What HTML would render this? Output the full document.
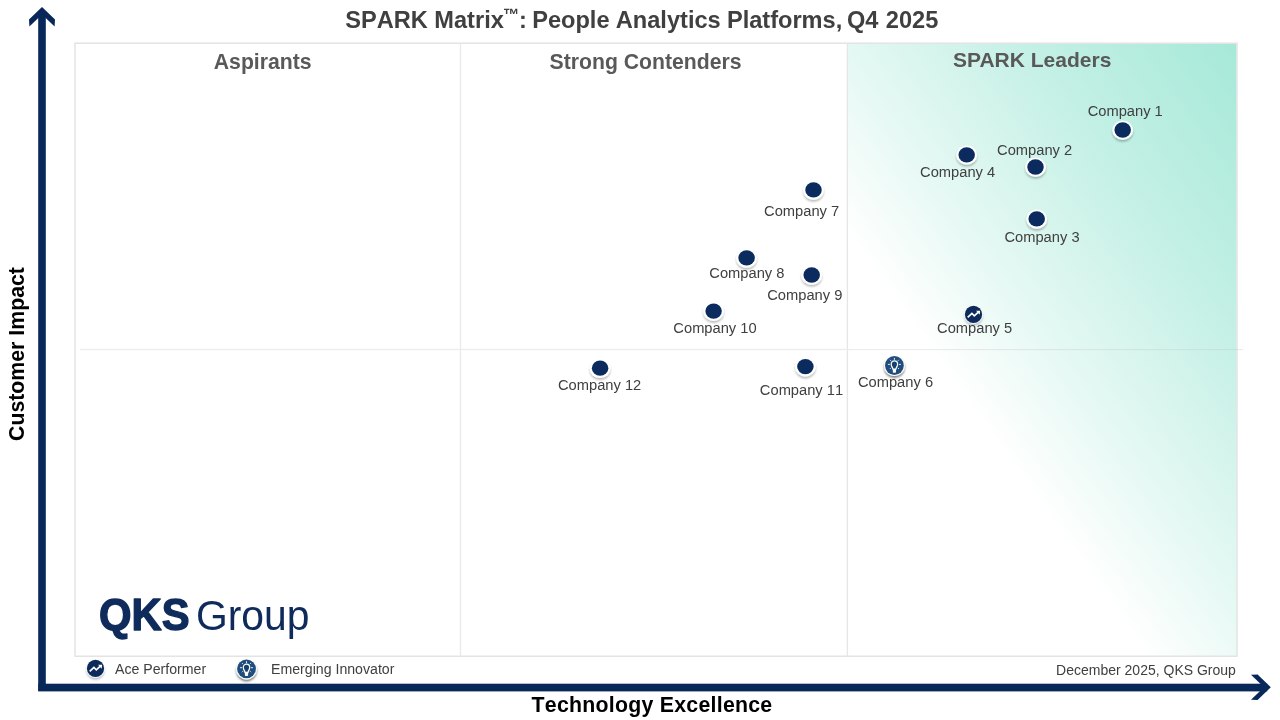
<!DOCTYPE html>
<html lang="en">
<head>
<meta charset="utf-8">
<title>SPARK Matrix: People Analytics Platforms, Q4 2025</title>
<style>
html,body{margin:0;padding:0;background:#fff;}
body{width:1280px;height:720px;overflow:hidden;font-family:"Liberation Sans",Arial,sans-serif;}
svg{display:block;}
text{font-family:"Liberation Sans",Arial,sans-serif;font-kerning:none;}
.lbl{font-size:14.7px;fill:#404040;}
.quad{font-size:21.2px;font-weight:bold;fill:#595959;}
.axis{font-size:21.3px;font-weight:bold;fill:#000;}
.leg{font-size:14px;fill:#404040;}
</style>
</head>
<body>
<svg width="1280" height="720" viewBox="0 0 1280 720">
<defs>
  <linearGradient id="gleader" gradientUnits="userSpaceOnUse" x1="848" y1="656" x2="1395.0" y2="268.0">
    <stop offset="0" stop-color="#ffffff"/>
    <stop offset="0.362" stop-color="#ffffff"/>
    <stop offset="0.508" stop-color="#e7f9f4"/>
    <stop offset="0.745" stop-color="#c4f0e5"/>
    <stop offset="1" stop-color="#a6e9d8"/>
  </linearGradient>
  <filter id="sh" x="-50%" y="-50%" width="200%" height="200%">
    <feGaussianBlur in="SourceAlpha" stdDeviation="1.1"/>
    <feOffset dx="0" dy="1.6" result="o"/>
    <feComponentTransfer><feFuncA type="linear" slope="0.27"/></feComponentTransfer>
    <feMerge><feMergeNode/><feMergeNode in="SourceGraphic"/></feMerge>
  </filter>
  <filter id="sh2" x="-50%" y="-50%" width="200%" height="200%">
    <feGaussianBlur in="SourceAlpha" stdDeviation="1.2"/>
    <feOffset dx="0" dy="2" result="o"/>
    <feComponentTransfer><feFuncA type="linear" slope="0.5"/></feComponentTransfer>
    <feMerge><feMergeNode/><feMergeNode in="SourceGraphic"/></feMerge>
  </filter>
  <g id="dot">
    <ellipse cx="0" cy="0.2" rx="10.4" ry="9.6" fill="#ffffff" filter="url(#sh)"/>
    <ellipse cx="0" cy="0" rx="8.25" ry="7.65" fill="#0b2b5f"/>
  </g>
  <g id="ace">
    <circle cx="0" cy="0.1" r="9.3" fill="#ffffff" fill-opacity="0.9" filter="url(#sh)"/>
    <circle cx="0" cy="0" r="8.6" fill="#0c2a5b"/>
    <polyline points="-5.8,3 -1.6,-0.9 0.8,1.5 4.6,-2" fill="none" stroke="#fff" stroke-width="1.7" stroke-linejoin="miter"/>
    <polygon points="2.6,-3.6 6.6,-3.6 6.2,0.4" fill="#fff"/>
  </g>
  <g id="bulb">
    <circle cx="0" cy="0.2" r="10.4" fill="#ffffff" filter="url(#sh2)"/>
    <circle cx="0" cy="0" r="9.4" fill="#1f4e7e"/>
    <path d="M-1.5 3.7 C-1.5 2 -3.2 1 -3.2 -1.3 A3.2 3.4 0 1 1 3.2 -1.3 C3.2 1 1.5 2 1.5 3.7 Z" fill="#17406c" stroke="#fff" stroke-width="1.25" stroke-linejoin="round"/>
    <rect x="-1.6" y="3.6" width="3.2" height="3.7" rx="0.8" fill="#fff"/>
    <g stroke="#e4edf6" stroke-width="1" stroke-linecap="round">
      <line x1="0" y1="-7.2" x2="0" y2="-6.1"/>
      <line x1="-6.1" y1="-1.1" x2="-4.9" y2="-1.1"/>
      <line x1="6.1" y1="-1.1" x2="4.9" y2="-1.1"/>
      <line x1="-4.2" y1="-5.4" x2="-3.8" y2="-5"/>
      <line x1="4.2" y1="-5.4" x2="3.8" y2="-5"/>
      <line x1="-4.2" y1="3.1" x2="-3.8" y2="2.7"/>
      <line x1="4.2" y1="3.1" x2="3.8" y2="2.7"/>
    </g>
  </g>
</defs>

<!-- chart frame -->
<rect x="848" y="44" width="388.5" height="612" fill="url(#gleader)"/>
<rect x="75" y="43.2" width="1162" height="613" fill="none" stroke="#e2e2e2" stroke-width="1.4"/>
<line x1="460.5" y1="43" x2="460.5" y2="656" stroke="#e9e9e9" stroke-width="1.3"/>
<line x1="847.4" y1="43" x2="847.4" y2="656" stroke="#e6e6e6" stroke-width="1.3"/>
<line x1="80" y1="349.6" x2="848" y2="349.6" stroke="#ededed" stroke-width="1.5"/>
<line x1="848" y1="349.6" x2="1243" y2="349.6" stroke="#c8c8c8" stroke-opacity="0.4" stroke-width="1"/>

<!-- axes -->
<g fill="#09285a">
  <rect x="38.2" y="11" width="7.6" height="680"/>
  <rect x="38.2" y="683.7" width="1229" height="7.7"/>
  <polygon points="42,7 55,19.4 54.6,26.6 42,14.6 29.4,26.6 29,19.4"/>
  <polygon points="1270.8,687.3 1257.6,674.6 1251,674.8 1264,687.3 1251,699.8 1257.6,700"/>
</g>

<!-- title -->
<g font-size="23.6" font-weight="bold" fill="#404040" style="font-kerning:normal">
<text x="345.2" y="27.9">SPARK Matrix</text>
<text x="503" y="20.4" font-size="16.3">™</text>
<text y="27.9"><tspan x="518.9">: </tspan><tspan x="532.2">People </tspan><tspan x="615.8">Analytics </tspan><tspan x="726.9">Platforms, </tspan><tspan x="847">Q4 </tspan><tspan x="885.8">2025</tspan></text>
</g>

<!-- quadrant headings -->
<text class="quad" x="213.8" y="69.2">Aspirants</text>
<text class="quad" x="549.6" y="69.2">Strong Contenders</text>
<text class="quad" x="953" y="67.3" style="font-kerning:normal;font-size:21px">SPARK Leaders</text>

<!-- axis labels -->
<text class="axis" x="531.6" y="712.2" textLength="240.6" lengthAdjust="spacing">Technology Excellence</text>
<text class="axis" transform="translate(23.8 441) rotate(-90)">Customer Impact</text>

<!-- data points -->
<use href="#dot" x="1122.7" y="130"/>
<use href="#dot" x="1035.5" y="167"/>
<use href="#dot" x="1036.7" y="218.9"/>
<use href="#dot" x="966.7" y="154.8"/>
<use href="#dot" x="813.5" y="189.9"/>
<use href="#dot" x="746.6" y="257.9"/>
<use href="#dot" x="811.7" y="275"/>
<use href="#dot" x="713.6" y="311.1"/>
<use href="#dot" x="805.4" y="366.6"/>
<use href="#dot" x="600.1" y="368.2"/>
<use href="#ace" x="973.5" y="314.4"/>
<use href="#bulb" x="894.4" y="365.5"/>

<g class="lbl" text-anchor="middle">
<text x="1125.2" y="115.5">Company 1</text>
<text x="1034.6" y="154.7">Company 2</text>
<text x="1042.0" y="241.7">Company 3</text>
<text x="957.6" y="176.7">Company 4</text>
<text x="974.6" y="332.8">Company 5</text>
<text x="895.5" y="386.7">Company 6</text>
<text x="801.6" y="215.8">Company 7</text>
<text x="746.9" y="278">Company 8</text>
<text x="804.8" y="299.7">Company 9</text>
<text x="715.0" y="332.8">Company 10</text>
<text x="801.5" y="394.5">Company 11</text>
<text x="599.6" y="390">Company 12</text>
</g>

<!-- logo -->
<text x="99" y="629.6" font-size="44.5" font-weight="bold" fill="#0f2b5b" stroke="#0f2b5b" stroke-width="1.4" stroke-linejoin="round" textLength="90.5" lengthAdjust="spacingAndGlyphs">QKS</text>
<text x="196" y="629.8" font-size="42.5" fill="#0f2b5b" textLength="113.5" lengthAdjust="spacingAndGlyphs">Group</text>

<!-- legend -->
<use href="#ace" x="95.5" y="668.4"/>
<text class="leg" x="115" y="673.9" style="font-size:14.15px">Ace Performer</text>
<use href="#bulb" x="246.5" y="668.8"/>
<text class="leg" x="271" y="674" style="font-size:14.15px">Emerging Innovator</text>
<text class="leg" x="1056.1" y="675">December 2025, QKS Group</text>
</svg>
</body>
</html>
